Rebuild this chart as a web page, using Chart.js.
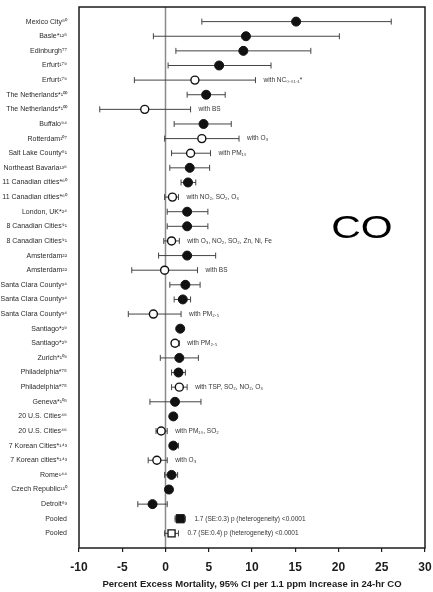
<!DOCTYPE html>
<html>
<head>
<meta charset="utf-8">
<script src="https://cdn.jsdelivr.net/npm/chart.js@4.4.1/dist/chart.umd.min.js"></script>
<style>
  html, body { margin: 0; padding: 0; background: #fff; }
  #wrap { width: 433px; height: 592px; position: relative; }
</style>
</head>
<body>
<div id="wrap"><canvas id="c"></canvas></div>
<script>
// Study labels, top to bottom
const studies = [
  'Mexico City⁸⁰', 'Basle*¹²⁸', 'Edinburgh⁷⁷', 'Erfurt¹⁷⁹', 'Erfurt¹⁷⁹',
  'The Netherlands*¹⁰⁰', 'The Netherlands*¹⁰⁰', 'Buffalo⁹⁴', 'Rotterdam¹⁰⁷',
  'Salt Lake County⁸¹', 'Northeast Bavaria¹³⁶', '11 Canadian cities*⁶⁰',
  '11 Canadian cities*⁶⁰', 'London, UK*²⁴', '8 Canadian Cities⁹¹', '8 Canadian Cities⁹¹',
  'Amsterdam²²', 'Amsterdam²²', 'Santa Clara County³⁴', 'Santa Clara County³⁴',
  'Santa Clara County³⁴', 'Santiago*²⁹', 'Santiago*²⁹', 'Zurich*¹⁰⁹',
  'Philadelphia*⁷⁵', 'Philadelphia*⁷⁵', 'Geneva*¹⁰⁸', '20 U.S. Cities⁴⁶',
  '20 U.S. Cities⁴⁶', '7 Korean Cities*¹⁴³', '7 Korean cities*¹⁴³', 'Rome¹⁴⁴',
  'Czech Republic¹¹⁰', 'Detroit⁸³', 'Pooled', 'Pooled'
];

// Percent excess mortality estimate and 95% CI
const estimate = [15.1, 9.3, 9.0, 6.2, 3.4, 4.7, -2.4, 4.4, 4.2, 2.9, 2.8, 2.6, 0.8, 2.5, 2.5, 0.7,
  2.5, -0.1, 2.3, 2.0, -1.4, 1.7, 1.1, 1.6, 1.5, 1.6, 1.1, 0.9, -0.5, 0.9, -1.0, 0.7, 0.4, -1.5, 1.7, 0.7];
const lower = [4.2, -1.4, 1.2, 0.3, -3.6, 2.5, -7.6, 1.0, -0.1, 0.7, 0.5, 1.8, -0.1, 0.2, 0.2, -0.2,
  -0.8, -3.9, 0.5, 1.0, -4.3, 1.4, 0.7, -0.6, 0.7, 0.7, -1.8, 0.6, -1.1, 0.5, -2.0, -0.1, 0.1, -3.2, 1.1, -0.1];
const upper = [26.1, 20.1, 16.8, 12.2, 10.4, 6.9, 2.9, 7.6, 8.5, 5.2, 5.1, 3.5, 1.5, 4.9, 4.9, 1.6,
  5.8, 3.7, 4.0, 2.9, 1.8, 2.0, 1.6, 3.8, 2.3, 2.5, 4.1, 1.2, 0.2, 1.5, 0.2, 1.4, 0.7, 0.2, 2.3, 1.5];

// true = estimate adjusted for co-pollutants (open marker)
const multiPollutant = [false, false, false, false, true, false, true, false, true, true, false, false,
  true, false, false, true, false, true, false, false, true, false, true, false, false, true, false,
  false, true, false, true, false, false, false, false, true];

// Annotation beside each interval
const notes = ['', '', '', '', 'with NC₀.₀₁₋₁*', '', 'with BS', '', 'with O₃', 'with PM₁₀', '', '',
  'with NO₂, SO₂, O₃', '', '', 'with O₃, NO₂, SO₂, Zn, Ni, Fe', '', 'with BS', '', '', 'with PM₂.₅',
  '', 'with PM₂.₅', '', '', 'with TSP, SO₂, NO₂, O₃', '', '', 'with PM₁₀, SO₂', '', 'with O₃', '', '', '',
  '1.7 (SE:0.3) p (heterogeneity) <0.0001', '0.7 (SE:0.4) p (heterogeneity) <0.0001'];

const xTicks = [-10, -5, 0, 5, 10, 15, 20, 25, 30];
const xTitle = 'Percent Excess Mortality, 95% CI per 1.1 ppm Increase in 24-hr CO';
const panelLabel = 'CO';

const rows = studies.map((_, i) => i);
const isPooled = i => studies[i] === 'Pooled';
const pick = test => rows.filter(test).map(i => ({ x: estimate[i], y: i }));

const FONT = '"Liberation Sans", Arial, sans-serif';
const INK = '#1c1c1c';

// Confidence-interval whiskers, caps and side notes
const intervalPlugin = {
  id: 'intervals',
  beforeDatasetsDraw(chart) {
    const { ctx, chartArea: a, scales: { x, y } } = chart;
    ctx.save();
    // vertical reference line at zero
    ctx.strokeStyle = '#8a8a8a';
    ctx.lineWidth = 1.5;
    ctx.beginPath();
    ctx.moveTo(x.getPixelForValue(0), a.top);
    ctx.lineTo(x.getPixelForValue(0), a.bottom);
    ctx.stroke();

    ctx.strokeStyle = '#444';
    ctx.lineWidth = 1;
    rows.forEach(i => {
      const py = y.getPixelForValue(i);
      const x0 = x.getPixelForValue(lower[i]);
      const x1 = x.getPixelForValue(upper[i]);
      ctx.beginPath();
      ctx.moveTo(x0, py); ctx.lineTo(x1, py);
      ctx.moveTo(x0, py - 3); ctx.lineTo(x0, py + 3);
      ctx.moveTo(x1, py - 3); ctx.lineTo(x1, py + 3);
      ctx.stroke();
    });

    ctx.fillStyle = '#333';
    ctx.font = '6.5px ' + FONT;
    ctx.textBaseline = 'middle';
    ctx.textAlign = 'left';
    rows.forEach(i => {
      if (!notes[i]) return;
      const gap = isPooled(i) ? 9 : 8;
      ctx.fillText(notes[i], x.getPixelForValue(upper[i]) + gap, y.getPixelForValue(i));
    });
    ctx.restore();
  },
  afterDraw(chart) {
    const { ctx, chartArea: a } = chart;
    ctx.save();
    ctx.strokeStyle = INK;
    ctx.lineWidth = 1.5;
    ctx.strokeRect(a.left, a.top, a.right - a.left, a.bottom - a.top);
    // pollutant label in the panel
    ctx.fillStyle = '#000';
    ctx.font = '31px ' + FONT;
    ctx.textBaseline = 'middle';
    ctx.textAlign = 'center';
    ctx.translate(362, 229);
    ctx.scale(1.32, 1);
    ctx.fillText(panelLabel, 0, 0);
    ctx.restore();
  }
};

new Chart(document.getElementById('c'), {
  type: 'scatter',
  data: {
    datasets: [
      {
        label: 'single pollutant',
        data: pick(i => !multiPollutant[i] && !isPooled(i)),
        pointStyle: 'circle', pointRadius: 4.5,
        backgroundColor: '#111', borderColor: '#111', borderWidth: 1
      },
      {
        label: 'multi pollutant',
        data: pick(i => multiPollutant[i] && !isPooled(i)),
        pointStyle: 'circle', pointRadius: 4,
        backgroundColor: '#fff', borderColor: '#111', borderWidth: 1.4
      },
      {
        label: 'pooled single',
        data: pick(i => !multiPollutant[i] && isPooled(i)),
        pointStyle: 'rect', pointRadius: 5.8,
        backgroundColor: '#111', borderColor: '#111', borderWidth: 1
      },
      {
        label: 'pooled multi',
        data: pick(i => multiPollutant[i] && isPooled(i)),
        pointStyle: 'rect', pointRadius: 5,
        backgroundColor: '#fff', borderColor: '#111', borderWidth: 1.3
      }
    ]
  },
  options: {
    responsive: true,
    maintainAspectRatio: false,
    animation: false,
    layout: { padding: { top: 7, right: 8, left: 0, bottom: 0 } },
    plugins: { legend: { display: false }, tooltip: { enabled: false } },
    scales: {
      x: {
        type: 'linear', min: -10, max: 30,
        afterBuildTicks: s => { s.ticks = xTicks.map(v => ({ value: v })); },
        afterFit: s => { s.height = 44; s.paddingLeft = 0; s.paddingRight = 0; },
        grid: { display: true, drawOnChartArea: false, drawTicks: true, tickLength: 4, color: INK, lineWidth: 1.2 },
        border: { display: false },
        ticks: { color: INK, padding: 8, font: { family: FONT, size: 12, weight: 'bold' }, maxRotation: 0 },
        title: {
          display: true, text: xTitle, color: INK,
          font: { family: FONT, size: 9.5, weight: 'bold' },
          padding: { top: 0, bottom: 2 }
        }
      },
      y: {
        type: 'linear', min: -1, max: 36, reverse: true,
        afterBuildTicks: s => { s.ticks = rows.map(v => ({ value: v })); },
        afterFit: s => { s.width = 79; s.paddingTop = 0; s.paddingBottom = 0; },
        grid: { display: false },
        border: { display: false },
        ticks: {
          autoSkip: false, padding: 4, color: '#2a2a2a',
          font: { family: FONT, size: 7 },
          callback: v => studies[v] ?? ''
        }
      }
    }
  },
  plugins: [intervalPlugin]
});
</script>
</body>
</html>
